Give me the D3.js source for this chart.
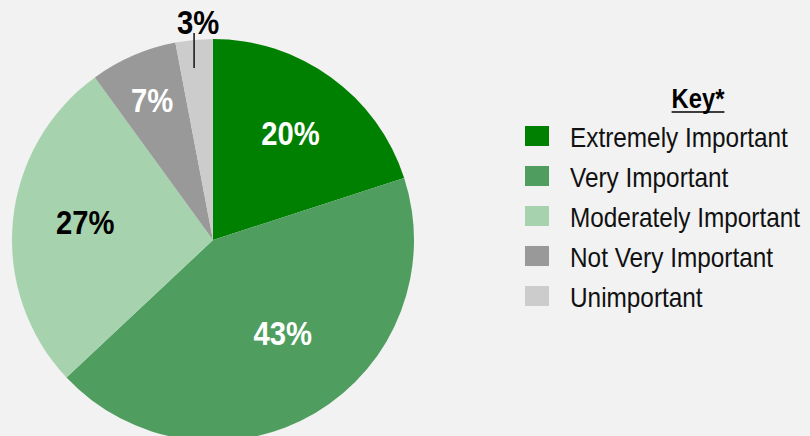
<!DOCTYPE html>
<html>
<head>
<meta charset="utf-8">
<script src="https://cdn.jsdelivr.net/npm/d3@7"></script>
<style>
  html, body { margin: 0; padding: 0; background: #f2f2f2; }
  svg { display: block; }
  text { font-family: "Liberation Sans", Arial, sans-serif; }
</style>
</head>
<body>
<svg id="chart" width="810" height="436"></svg>
<script>
// Importance ratings, share of respondents (%)
const categories = ["Extremely Important", "Very Important", "Moderately Important", "Not Very Important", "Unimportant"];
const values = [20, 43, 27, 7, 3];
const sliceColors = ["#008000", "#4f9e5f", "#a6d3ae", "#999999", "#cccccc"];
const labelColors = ["#ffffff", "#ffffff", "#000000", "#ffffff", "#000000"];
const legendTitle = "Key*";

const W = 810, H = 436;
const cx = 213, cy = 240, R = 201;
// Condensed look: regular face squeezed horizontally
const valueSquash = 0.86, legendSquash = 0.87;

const svg = d3.select("#chart");
svg.append("rect").attr("width", W).attr("height", H).attr("fill", "#f2f2f2");

const data = categories.map((c, i) => ({ name: c, value: values[i], color: sliceColors[i], labelColor: labelColors[i] }));

const pie = d3.pie().value(d => d.value).sort(null);
const arcs = pie(data);
const arc = d3.arc().innerRadius(0).outerRadius(R);

const g = svg.append("g").attr("transform", `translate(${cx},${cy})`);

g.selectAll("path.slice")
  .data(arcs)
  .join("path")
  .attr("class", "slice")
  .attr("d", arc)
  .attr("fill", d => d.data.color);

// Label placement: radial distance from the centre, plus small nudges for best fit
const labelRadius = { "Extremely Important": 132, "Very Important": 116, "Moderately Important": 129, "Not Very Important": 153 };
const labelAngleShift = { "Very Important": -6.4 * Math.PI / 180, "Moderately Important": 2.6 * Math.PI / 180 };

const inside = arcs.filter(d => labelRadius[d.data.name] !== undefined);
g.selectAll("g.val")
  .data(inside)
  .join("g")
  .attr("class", "val")
  .attr("transform", d => {
    const r = labelRadius[d.data.name];
    const a = (d.startAngle + d.endAngle) / 2 + (labelAngleShift[d.data.name] || 0);
    return `translate(${r * Math.sin(a)},${-r * Math.cos(a)}) scale(${valueSquash},1)`;
  })
  .append("text")
  .attr("text-anchor", "middle")
  .attr("dy", "0.36em")
  .attr("font-size", 34)
  .attr("font-weight", "bold")
  .attr("fill", d => d.data.labelColor)
  .text(d => d.data.value + "%");

// Small slice: label outside with a leader line
const small = arcs.filter(d => labelRadius[d.data.name] === undefined);
small.forEach(d => {
  const a = (d.startAngle + d.endAngle) / 2;
  const x = R * Math.sin(a);
  g.append("line")
    .attr("x1", x).attr("x2", x)
    .attr("y1", -R * Math.cos(a) + 28)
    .attr("y2", -R - 6)
    .attr("stroke", "#111").attr("stroke-width", 1.5);
  g.append("g")
    .attr("transform", `translate(${x + 4},${-R - 5}) scale(${valueSquash},1)`)
    .append("text")
    .attr("text-anchor", "middle")
    .attr("font-size", 34)
    .attr("font-weight", "bold")
    .attr("fill", d.data.labelColor)
    .text(d.data.value + "%");
});

// Legend
const legend = svg.append("g").attr("transform", "translate(525,126)");
const titleG = legend.append("g")
  .attr("transform", `translate(173,-18) scale(0.88,1)`);
const title = titleG.append("text")
  .attr("text-anchor", "middle")
  .attr("font-size", 27)
  .attr("font-weight", "bold")
  .attr("fill", "#000")
  .text(legendTitle);
const tw = title.node().getComputedTextLength() * 0.88;
legend.append("line")
  .attr("x1", 173 - tw / 2).attr("x2", 173 + tw / 2)
  .attr("y1", -14).attr("y2", -14)
  .attr("stroke", "#000").attr("stroke-width", 1.6);

const rowStep = 40;
const rows = legend.selectAll("g.row")
  .data(data)
  .join("g")
  .attr("class", "row")
  .attr("transform", (d, i) => `translate(0,${i * rowStep})`);
rows.append("rect")
  .attr("width", 24).attr("height", 20)
  .attr("fill", d => d.color);
rows.append("g")
  .attr("transform", `translate(45,21) scale(${legendSquash},1)`)
  .append("text")
  .attr("font-size", 28)
  .attr("fill", "#111")
  .text(d => d.name);
</script>
</body>
</html>
